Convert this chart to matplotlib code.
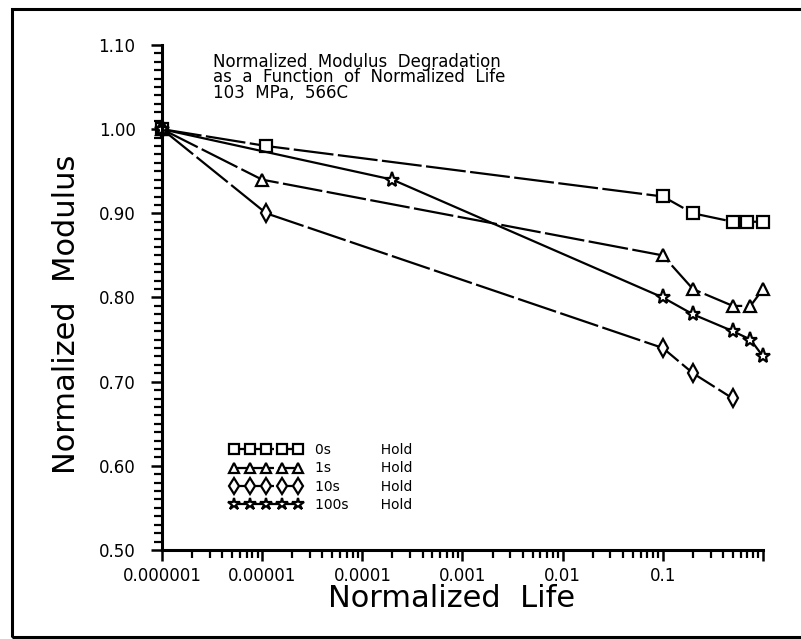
import matplotlib
matplotlib.use("Agg")
import matplotlib.pyplot as plt
from matplotlib.ticker import FixedLocator, FixedFormatter, MultipleLocator, LogLocator, NullFormatter
from matplotlib.patches import Rectangle

plt.rcParams['font.family'] = ['DejaVu Sans']

# ---- data ----
hold_labels = ["0s", "1s", "10s", "100s"]

life_0s = [1e-6, 1.1e-5, 0.1, 0.2, 0.5, 0.7, 1.0]
mod_0s = [1.00, 0.98, 0.92, 0.90, 0.89, 0.89, 0.89]

life_1s = [1e-6, 1.0e-5, 0.1, 0.2, 0.5, 0.75, 1.0]
mod_1s = [1.00, 0.94, 0.85, 0.81, 0.79, 0.79, 0.81]

life_10s = [1e-6, 1.1e-5, 0.1, 0.2, 0.5]
mod_10s = [1.00, 0.90, 0.74, 0.71, 0.68]

life_100s = [1e-6, 2e-4, 0.1, 0.2, 0.5, 0.75, 1.0]
mod_100s = [1.00, 0.94, 0.80, 0.78, 0.76, 0.75, 0.73]

x_tick_values = [1e-6, 1e-5, 1e-4, 1e-3, 1e-2, 1e-1, 1.0]
x_tick_labels = ["0.000001", "0.00001", "0.0001", "0.001", "0.01", "0.1", ""]
y_tick_values = [0.50, 0.60, 0.70, 0.80, 0.90, 1.00, 1.10]

title_lines = ["Normalized  Modulus  Degradation",
               "as  a  Function  of  Normalized  Life",
               "103  MPa,  566C"]

# ---- figure ----
fig = plt.figure(figsize=(8.01, 6.39), dpi=100)
ax = fig.add_axes([162/801, 1 - 550/639, 601/801, 505/639])

series = [
    (life_0s, mod_0s, 's', (0, (18, 2))),
    (life_1s, mod_1s, '^', (0, (18, 2))),
    (life_10s, mod_10s, 'd', (0, (18, 2))),
    (life_100s, mod_100s, '*', '-'),
]
for (x, y, m, ls), h in zip(series, hold_labels):
    pad = "\u2007" * (3 - (len(h) - 1))
    lab = f"{h}{pad}\u2003\u2003 Hold"
    ax.plot(x, y, color='black', lw=1.6, ls=ls, marker=m,
            markersize=9 if m != '*' else 11, markerfacecolor='white',
            markeredgecolor='black', markeredgewidth=1.6,
            clip_on=False, label=lab)

ax.set_xscale('log')
ax.set_xlim(1e-6, 1.0)
ax.set_ylim(0.50, 1.10)

ax.xaxis.set_major_locator(FixedLocator(x_tick_values))
ax.xaxis.set_major_formatter(FixedFormatter(x_tick_labels))
ax.xaxis.set_minor_locator(LogLocator(base=10, subs=range(2, 10), numticks=20))
ax.xaxis.set_minor_formatter(NullFormatter())

ax.yaxis.set_major_locator(FixedLocator(y_tick_values))
ax.yaxis.set_major_formatter(FixedFormatter([f"{v:.2f}" for v in y_tick_values]))
ax.yaxis.set_minor_locator(MultipleLocator(0.01))

for s in ['top', 'right']:
    ax.spines[s].set_visible(False)
for s in ['left', 'bottom']:
    ax.spines[s].set_linewidth(2.2)

ax.tick_params(axis='both', which='major', direction='out', length=8, width=1.8,
               labelsize=12)
ax.tick_params(axis='both', which='minor', direction='out', length=6, width=1.6)
ax.tick_params(axis='y', which='major', pad=11)
ax.tick_params(axis='x', which='major', pad=4)

ax.set_ylabel("Normalized  Modulus", fontsize=22)
ax.set_xlabel("Normalized  Life", fontsize=22)
ax.yaxis.set_label_coords(-0.135, 0.467)
ax.xaxis.set_label_coords(0.4825, -0.068)

ax.text(0.085, 0.985, "\n".join(title_lines), transform=ax.transAxes,
        fontsize=12, va='top', ha='left', linespacing=0.82)

leg = ax.legend(loc='upper left', bbox_to_anchor=(0.113, 0.212), frameon=False,
                numpoints=5, handlelength=5.2, handletextpad=0.9,
                labelspacing=0.32, borderpad=0, borderaxespad=0, fontsize=10,
                markerscale=0.85)

fig.add_artist(Rectangle((12/801, 2/639), 1.0, 628/639, transform=fig.transFigure,
                         fill=False, lw=2.2, edgecolor='black'))

fig.savefig("out.png", dpi=100)
